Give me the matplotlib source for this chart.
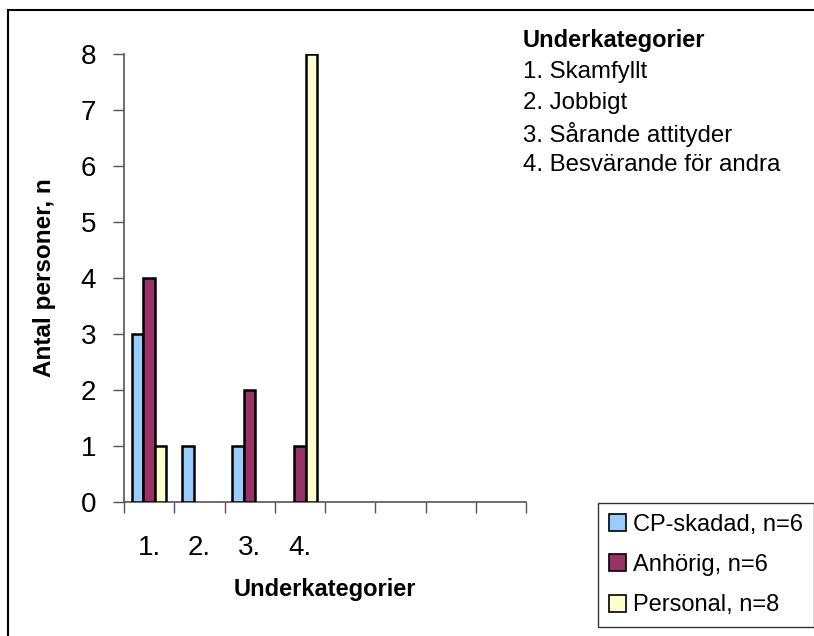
import matplotlib.pyplot as plt
import numpy as np
from matplotlib.patches import Patch, Rectangle

plt.rcParams['font.family'] = ['Liberation Sans', 'DejaVu Sans']

# Data
categories = ["1.", "2.", "3.", "4.", "", "", "", ""]
series_names = ["CP-skadad, n=6", "Anhörig, n=6", "Personal, n=8"]
cp_skadad = [3, 1, 1, 0, 0, 0, 0, 0]
anhorig = [4, 0, 2, 1, 0, 0, 0, 0]
personal = [1, 0, 0, 8, 0, 0, 0, 0]
subcategory_lines = ["1. Skamfyllt", "2. Jobbigt", "3. Sårande attityder",
                     "4. Besvärande för andra"]

colors = ["#99CCFF", "#993366", "#FFFFCC"]

fig = plt.figure(figsize=(8.14, 6.36), dpi=100)
ax = fig.add_axes([124 / 814, 1 - 502 / 636, 402 / 814, 448 / 636])

# outer frame (Excel chart area)
fig.patches.append(Rectangle((8 / 814, -0.05), 1.2, 1 - 10 / 636 + 0.05,
                             transform=fig.transFigure, fill=False,
                             edgecolor='black', linewidth=1.5))

x = np.arange(len(categories))
width = 0.23
for i, (vals, name) in enumerate(zip([cp_skadad, anhorig, personal], series_names)):
    v = np.array(vals, dtype=float)
    mask = v > 0
    ax.bar(x[mask] + (i - 1) * width, v[mask], width=width, color=colors[i],
           edgecolor='black', linewidth=1.8, zorder=3)

ax.set_xlim(-0.5, len(categories) - 0.5)
ax.set_ylim(0, 8)
ax.set_yticks(range(0, 9))
ax.tick_params(axis='y', labelsize=20, length=8, width=1, color='#555555', pad=12)

# category ticks at slot boundaries, labels centred in slots
ax.set_xticks(np.arange(-0.5, len(categories)), minor=False)
ax.set_xticklabels([])
ax.set_xticks(x, minor=True)
ax.set_xticklabels(categories, minor=True, fontsize=20)
ax.tick_params(axis='x', which='major', length=8, width=1, color='#555555')
ax.tick_params(axis='x', which='minor', length=0, pad=24)

for s in ['top', 'right']:
    ax.spines[s].set_visible(False)
for s in ['left', 'bottom']:
    ax.spines[s].set_color('#555555')
    ax.spines[s].set_linewidth(1.2)

ax.set_ylabel("Antal personer, n", fontsize=17.5, fontweight='bold', labelpad=18)
ax.set_xlabel("Underkategorier", fontsize=17, fontweight='bold', labelpad=12)

# subcategory explanation block
fig.text(523 / 814, 1 - 40 / 636, "Underkategorier", fontsize=17,
         fontweight='bold', va='center', ha='left')
for k, line in enumerate(subcategory_lines):
    fig.text(523 / 814, 1 - (72 + 31 * k) / 636, line, fontsize=17.3,
             va='center', ha='left')

handles = [Patch(facecolor=c, edgecolor='black', linewidth=1.2) for c in colors]
leg = fig.legend(handles, series_names, loc='upper left',
                 bbox_to_anchor=(598 / 814, 1 - 503 / 636), fontsize=17,
                 frameon=True, fancybox=False, shadow=False, edgecolor='black',
                 handlelength=0.75, handleheight=0.75, handletextpad=0.3,
                 labelspacing=0.78, borderpad=0.45, borderaxespad=0)
leg.get_frame().set_linewidth(1.0)

fig.savefig("out.png", dpi=100)
